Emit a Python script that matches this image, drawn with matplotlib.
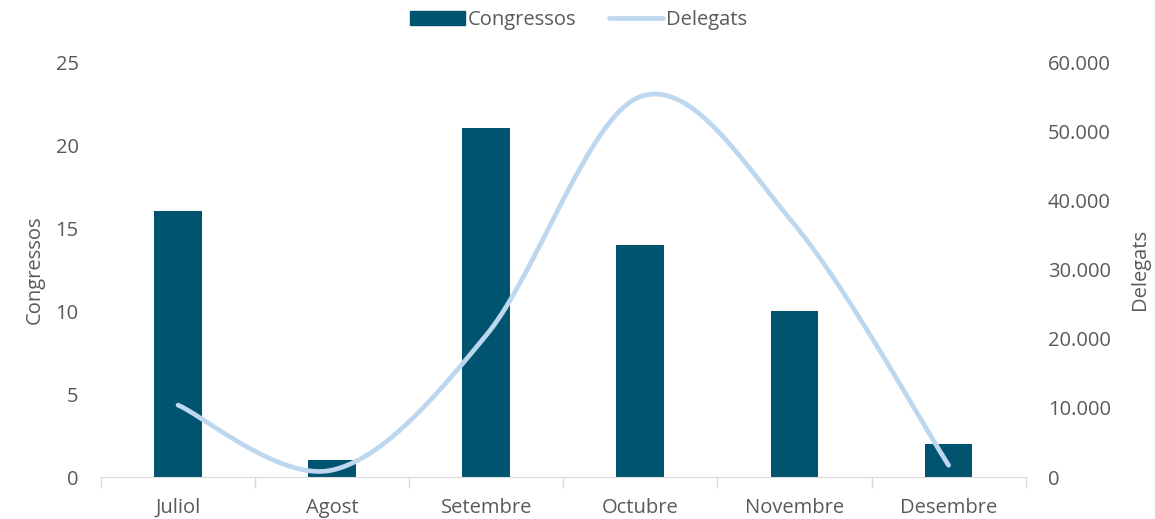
import numpy as np
import matplotlib.pyplot as plt
from matplotlib.lines import Line2D
from matplotlib.patches import Patch

months = ["Juliol", "Agost", "Setembre", "Octubre", "Novembre", "Desembre"]
congressos = [16, 1, 21, 14, 10, 2]
delegats = [10400, 1000, 20500, 55000, 36500, 1700]

BAR = "#00546F"
LINE = "#BDD7EE"
TXT = "#595959"
AX = "#D9D9D9"
FS = 14.5

plt.rcParams['font.family'] = ['Open Sans', 'DejaVu Sans']

fig = plt.figure(figsize=(11.55, 5.19), dpi=100)
ax = fig.add_axes([0.0874, 0.0809, 0.8006, 0.7996])
ax2 = ax.twinx()

x = np.arange(len(months))
ax.bar(x, congressos, width=0.31, color=BAR, zorder=2)
ax.set_xlim(-0.5, len(months) - 0.5)
ax.set_ylim(0, 25)
ax.set_yticks(range(0, 26, 5))

# smoothed line (Catmull-Rom, like Excel's smoothed line)
px, py = [], []
pts = np.column_stack([x, delegats]).astype(float)
for i in range(len(pts) - 1):
    p0 = pts[max(i - 1, 0)]
    p1 = pts[i]
    p2 = pts[i + 1]
    p3 = pts[min(i + 2, len(pts) - 1)]
    c1 = p1 + (p2 - p0) / 6
    c2 = p2 - (p3 - p1) / 6
    t = np.linspace(0, 1, 40)[:, None]
    seg = (1 - t) ** 3 * p1 + 3 * (1 - t) ** 2 * t * c1 + 3 * (1 - t) * t ** 2 * c2 + t ** 3 * p2
    px.extend(seg[:, 0])
    py.extend(seg[:, 1])
ax2.plot(px, py, color=LINE, lw=3.4, solid_capstyle='round', zorder=3)
ax2.set_ylim(0, 60000)
ax2.set_yticks(range(0, 60001, 10000))
ax2.set_yticklabels(["0"] + [f"{v // 1000}.000" for v in range(10000, 60001, 10000)])

ax.set_zorder(ax2.get_zorder() - 1)
ax.patch.set_visible(False)

for a in (ax, ax2):
    for s in a.spines.values():
        s.set_visible(False)
    a.tick_params(axis='y', length=0, labelsize=FS, labelcolor=TXT)
ax.tick_params(axis='y', pad=16)
ax2.tick_params(axis='y', pad=16)

ax.spines['bottom'].set_visible(True)
ax.spines['bottom'].set_color(AX)
ax.set_xticks(x)
ax.set_xticklabels(months)
ax.set_xticks(np.arange(-0.5, len(months)), minor=True)
ax.tick_params(axis='x', which='major', length=0, labelsize=FS, labelcolor=TXT, pad=15)
ax.tick_params(axis='x', which='minor', length=8, color=AX, width=1)

ax.set_ylabel("Congressos", fontsize=FS, color=TXT, labelpad=8)
ax2.set_ylabel("Delegats", fontsize=FS, color=TXT, labelpad=14)

handles = [Patch(color=BAR), Line2D([0], [0], color=LINE, lw=3.4, solid_capstyle='round')]
fig.legend(handles, ["Congressos", "Delegats"], loc='upper center', bbox_to_anchor=(0.501, 1.015),
           ncol=2, frameon=False, fontsize=FS, labelcolor=TXT, handlelength=2.7,
           handleheight=0.7, columnspacing=1.6, handletextpad=0.15)

fig.savefig("out.png", dpi=100)
